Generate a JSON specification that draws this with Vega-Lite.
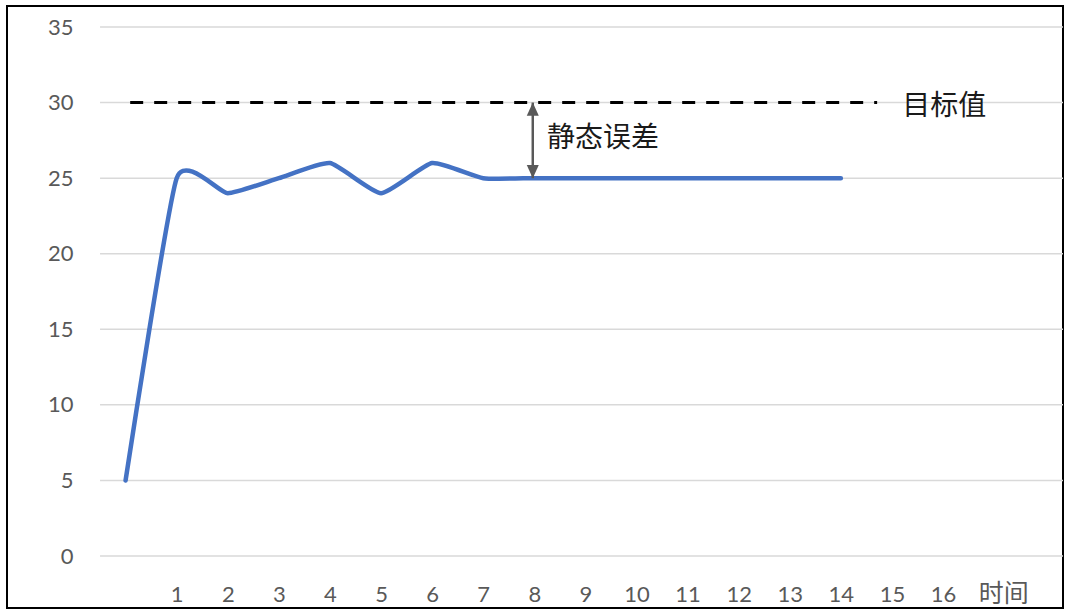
{
  "$schema": "https://vega.github.io/schema/vega-lite/v6.json",
  "autosize": {"type": "none"},
  "padding": {"left": 7, "top": 6, "right": 6, "bottom": 5},
  "width": 1056,
  "height": 602,
  "background": "#ffffff",
  "config": {
    "view": {"stroke": "#000000", "strokeWidth": 2},
    "axisX": {
      "domain": false, "ticks": false, "tickSize": 0, "grid": false,
      "labelExpr": "datum.value > 16.5 ? '时间' : datum.label",
      "labelFont": "Lato, 'Noto Sans CJK SC'",
      "labelFontSize": {"condition": {"test": "datum.value > 16.5", "value": 25}, "value": 22},
      "labelColor": "#595959", "labelPadding": 45, "labelBaseline": "alphabetic",
      "labelOverlap": false, "labelFlush": false, "labelBound": false
    },
    "axisY": {
      "domain": false, "ticks": false, "tickSize": 0, "grid": false,
      "labelFont": "Lato", "labelFontSize": 22, "labelColor": "#595959", "labelPadding": 27,
      "labelOverlap": false, "labelFlush": false, "labelBound": false
    }
  },
  "datasets": {
    "response": [
      {"t": 0, "v": 5}, {"t": 1, "v": 25}, {"t": 2, "v": 24}, {"t": 3, "v": 25},
      {"t": 4, "v": 26}, {"t": 5, "v": 24}, {"t": 6, "v": 26}, {"t": 7, "v": 25},
      {"t": 8, "v": 25}, {"t": 9, "v": 25}, {"t": 10, "v": 25}, {"t": 11, "v": 25},
      {"t": 12, "v": 25}, {"t": 13, "v": 25}, {"t": 14, "v": 25}
    ],
    "grid": [{"v": 0}, {"v": 5}, {"v": 10}, {"v": 15}, {"v": 20}, {"v": 25}, {"v": 30}, {"v": 35}],
    "target": [{"t": 0.09, "v": 30}, {"t": 14.71, "v": 30}],
    "error": [{"t": 7.97, "from": 30, "to": 25}],
    "labels": [
      {"t": 15.2, "v": 29.74, "text": "目标值"},
      {"t": 8.25, "v": 27.56, "text": "静态误差"}
    ]
  },
  "layer": [
    {
      "data": {"name": "grid"},
      "mark": {"type": "rule", "stroke": "#d9d9d9", "strokeWidth": 1.5},
      "encoding": {
        "x": {"datum": -0.5, "type": "quantitative", "scale": {"domain": [-2.321, 18.348], "nice": false, "zero": false}, "axis": {"title": null, "orient": "bottom", "offset": -52, "values": [1, 2, 3, 4, 5, 6, 7, 8, 9, 10, 11, 12, 13, 14, 15, 16, 17.18]}},
        "x2": {"datum": 18.348},
        "y": {"field": "v", "type": "quantitative", "scale": {"domain": [-3.44, 36.39], "nice": false, "zero": false}, "axis": {"title": null, "orient": "left", "offset": -93, "values": [0, 5, 10, 15, 20, 25, 30, 35]}}
      }
    },
    {
      "data": {"name": "target"},
      "mark": {"type": "line", "stroke": "#000000", "strokeWidth": 3, "strokeDash": [13, 11], "strokeCap": "butt"},
      "encoding": {
        "x": {"field": "t", "type": "quantitative", "scale": {"domain": [-2.321, 18.348], "nice": false, "zero": false}, "axis": {"title": null, "orient": "bottom", "offset": -52, "values": [1, 2, 3, 4, 5, 6, 7, 8, 9, 10, 11, 12, 13, 14, 15, 16, 17.18]}},
        "y": {"field": "v", "type": "quantitative", "scale": {"domain": [-3.44, 36.39], "nice": false, "zero": false}, "axis": {"title": null, "orient": "left", "offset": -93, "values": [0, 5, 10, 15, 20, 25, 30, 35]}}
      }
    },
    {
      "data": {"name": "response"},
      "mark": {"type": "line", "stroke": "#4472C4", "strokeWidth": 4.5, "interpolate": "cardinal", "tension": 0.5, "strokeCap": "round", "strokeJoin": "round"},
      "encoding": {
        "x": {"field": "t", "type": "quantitative", "scale": {"domain": [-2.321, 18.348], "nice": false, "zero": false}, "axis": {"title": null, "orient": "bottom", "offset": -52, "values": [1, 2, 3, 4, 5, 6, 7, 8, 9, 10, 11, 12, 13, 14, 15, 16, 17.18]}},
        "y": {"field": "v", "type": "quantitative", "scale": {"domain": [-3.44, 36.39], "nice": false, "zero": false}, "axis": {"title": null, "orient": "left", "offset": -93, "values": [0, 5, 10, 15, 20, 25, 30, 35]}}
      }
    },
    {
      "data": {"name": "error"},
      "mark": {"type": "rule", "stroke": "#595959", "strokeWidth": 2.5},
      "encoding": {
        "x": {"field": "t", "type": "quantitative", "scale": {"domain": [-2.321, 18.348], "nice": false, "zero": false}, "axis": {"title": null, "orient": "bottom", "offset": -52, "values": [1, 2, 3, 4, 5, 6, 7, 8, 9, 10, 11, 12, 13, 14, 15, 16, 17.18]}},
        "y": {"field": "from", "type": "quantitative", "scale": {"domain": [-3.44, 36.39], "nice": false, "zero": false}, "axis": {"title": null, "orient": "left", "offset": -93, "values": [0, 5, 10, 15, 20, 25, 30, 35]}},
        "y2": {"field": "to"}
      }
    },
    {
      "data": {"name": "error"},
      "mark": {"type": "point", "shape": "M0,0L-1,2.2L1,2.2Z", "filled": true, "fill": "#595959", "strokeWidth": 0, "size": 144, "opacity": 1},
      "encoding": {
        "x": {"field": "t", "type": "quantitative", "scale": {"domain": [-2.321, 18.348], "nice": false, "zero": false}, "axis": {"title": null, "orient": "bottom", "offset": -52, "values": [1, 2, 3, 4, 5, 6, 7, 8, 9, 10, 11, 12, 13, 14, 15, 16, 17.18]}},
        "y": {"field": "from", "type": "quantitative", "scale": {"domain": [-3.44, 36.39], "nice": false, "zero": false}, "axis": {"title": null, "orient": "left", "offset": -93, "values": [0, 5, 10, 15, 20, 25, 30, 35]}}
      }
    },
    {
      "data": {"name": "error"},
      "mark": {"type": "point", "shape": "M0,0L-1,-2.2L1,-2.2Z", "filled": true, "fill": "#595959", "strokeWidth": 0, "size": 144, "opacity": 1},
      "encoding": {
        "x": {"field": "t", "type": "quantitative", "scale": {"domain": [-2.321, 18.348], "nice": false, "zero": false}, "axis": {"title": null, "orient": "bottom", "offset": -52, "values": [1, 2, 3, 4, 5, 6, 7, 8, 9, 10, 11, 12, 13, 14, 15, 16, 17.18]}},
        "y": {"field": "to", "type": "quantitative", "scale": {"domain": [-3.44, 36.39], "nice": false, "zero": false}, "axis": {"title": null, "orient": "left", "offset": -93, "values": [0, 5, 10, 15, 20, 25, 30, 35]}}
      }
    },
    {
      "data": {"name": "labels"},
      "mark": {"type": "text", "align": "left", "baseline": "middle", "font": "Noto Sans CJK SC", "fontSize": 28, "fill": "#1a1a1a"},
      "encoding": {
        "x": {"field": "t", "type": "quantitative", "scale": {"domain": [-2.321, 18.348], "nice": false, "zero": false}, "axis": {"title": null, "orient": "bottom", "offset": -52, "values": [1, 2, 3, 4, 5, 6, 7, 8, 9, 10, 11, 12, 13, 14, 15, 16, 17.18]}},
        "y": {"field": "v", "type": "quantitative", "scale": {"domain": [-3.44, 36.39], "nice": false, "zero": false}, "axis": {"title": null, "orient": "left", "offset": -93, "values": [0, 5, 10, 15, 20, 25, 30, 35]}},
        "text": {"field": "text"}
      }
    }
  ]
}
